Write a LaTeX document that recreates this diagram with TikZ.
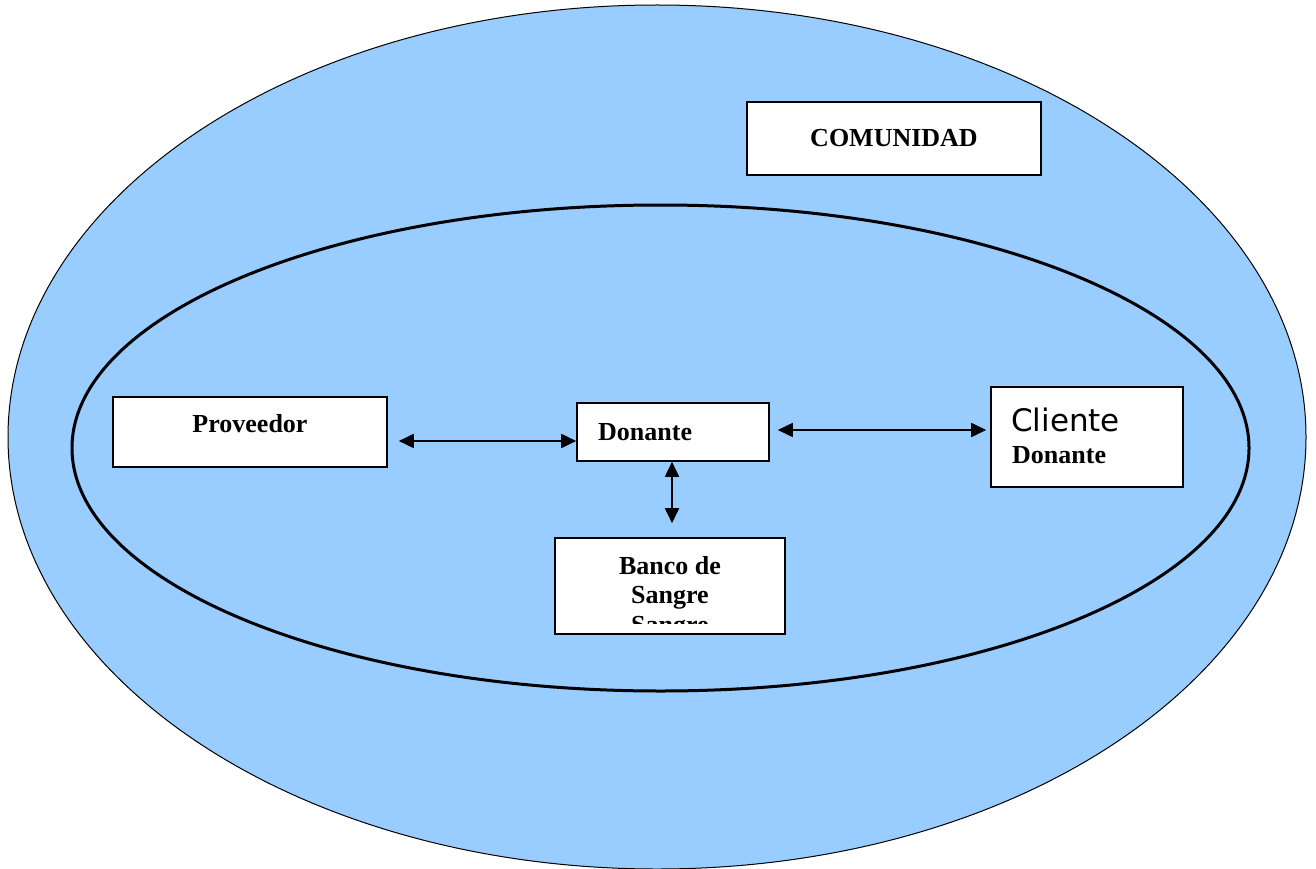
\documentclass[tikz,border=0pt]{standalone}
\usepackage{fontspec}
\setmainfont{Liberation Serif}
\newfontfamily\clientfont{DejaVu Sans}
\usetikzlibrary{arrows.meta}
\definecolor{sky}{HTML}{99CCFF}
\begin{document}
\begin{tikzpicture}[x=1pt,y=-1pt,
  box/.style={draw=black,line width=1.6pt,fill=white,inner sep=0pt},
  lbl/.style={font=\fontsize{26}{30}\selectfont\bfseries,inner sep=0pt},
  sanslbl/.style={font=\clientfont\fontsize{31}{34}\selectfont,inner sep=0pt},
  link/.style={line width=1.8pt,{Triangle[length=15pt,width=14pt]}-{Triangle[length=15pt,width=14pt]}}]
\useasboundingbox (0,0) rectangle (1316,869);
% ellipses
\draw[fill=sky,line width=1pt] (657,437) ellipse [x radius=649pt, y radius=432pt];
\draw[line width=3pt] (660.5,448) ellipse [x radius=588.5pt, y radius=243pt];
% boxes
\node[box,minimum width=294pt,minimum height=73pt,lbl] (com) at (894,138.5) {COMUNIDAD};
\node[box,minimum width=274pt,minimum height=70pt] (prov) at (250,432) {};
\node[lbl] (provtxt) at (250,424) {Proveedor};
\node[box,minimum width=192pt,minimum height=58pt] (don) at (673,432) {};
\node[lbl,anchor=west] (dontxt) at (598,432) {Donante};
\node[box,minimum width=192pt,minimum height=100pt] (cli) at (1087,437) {};
\node[sanslbl,anchor=west] (clitxt) at (1011,420) {Cliente};
\node[lbl,anchor=west] (clidon) at (1012,455) {Donante};
\node[box,minimum width=230pt,minimum height=96pt] (banco) at (670,586) {};
\begin{scope}
  \clip (556,539) rectangle (784,623);
  \node[lbl,anchor=base] (banco1) at (670,574) {Banco de};
  \node[lbl,anchor=base] (banco2) at (670,603) {Sangre};
  \node[lbl,anchor=base] (banco3) at (670,633) {Sangre};
\end{scope}
% connectors
\draw[link] ([xshift=11pt,yshift=-9pt]prov.east) -- ([yshift=-9pt]don.west);
\draw[link] ([xshift=8pt,yshift=2pt]don.east) -- ([xshift=-4pt,yshift=7pt]cli.west);
\draw[link] ([xshift=-1pt]don.south) -- ([xshift=2pt,yshift=14pt]banco.north);
\end{tikzpicture}
\end{document}
